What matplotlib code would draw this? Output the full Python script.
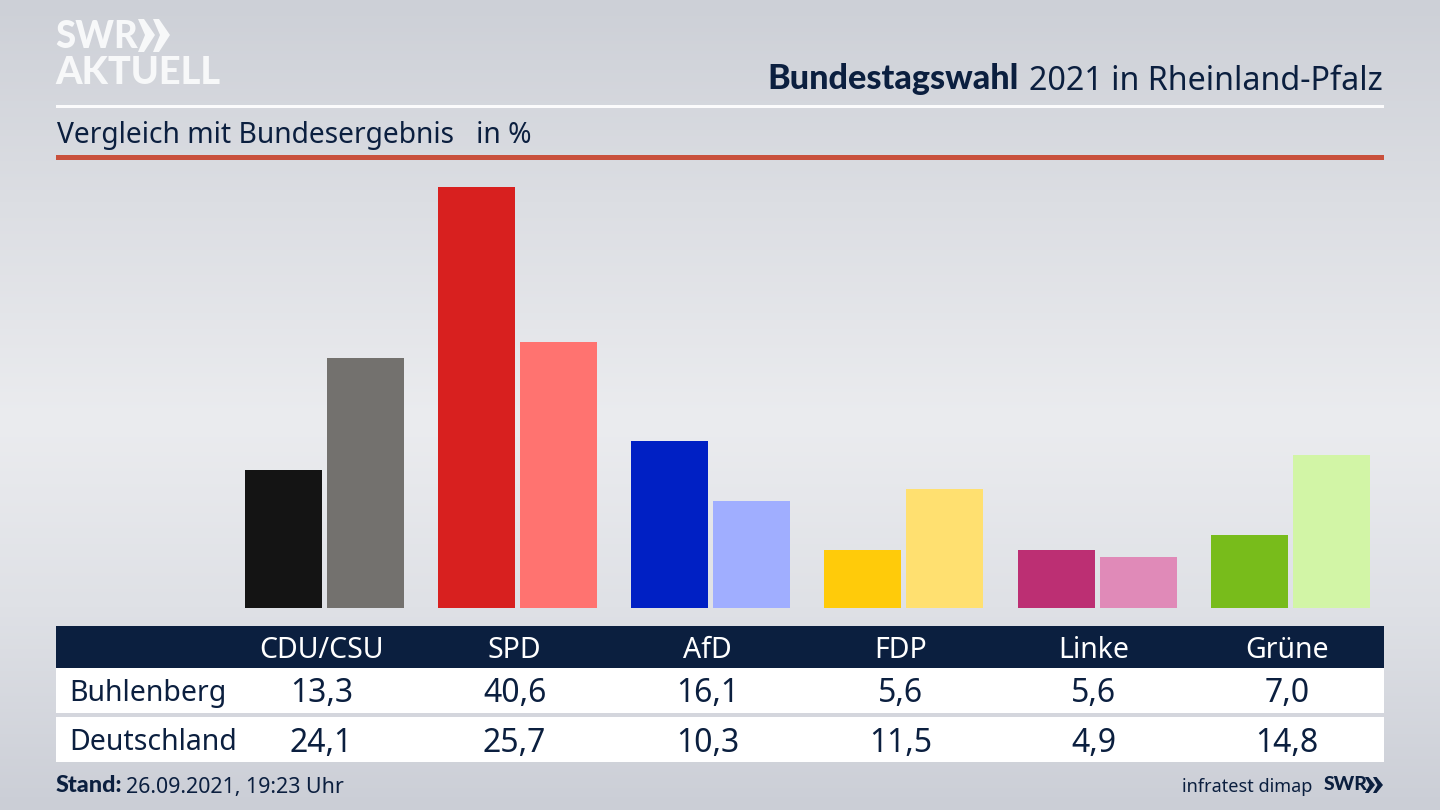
import numpy as np
import matplotlib
matplotlib.use("Agg")
import matplotlib.pyplot as plt
from matplotlib.patches import Rectangle, Polygon
from matplotlib.colors import LinearSegmentedColormap

parties = ["CDU/CSU", "SPD", "AfD", "FDP", "Linke", "Grüne"]
buhlenberg = [13.3, 40.6, 16.1, 5.6, 5.6, 7.0]
deutschland = [24.1, 25.7, 10.3, 11.5, 4.9, 14.8]
colors_local = ["#141414", "#d8201f", "#0020c4", "#ffcb0a", "#bc2f73", "#78bc1b"]
colors_national = ["#73716e", "#ff7370", "#a0aeff", "#ffe070", "#e08ab8", "#d2f5a6"]
row_names = ["Buhlenberg", "Deutschland"]
title_bold = "Bundestagswahl"
title_rest = "2021 in Rheinland-Pfalz"
subtitle = "Vergleich mit Bundesergebnis   in %"

W, H = 1440, 810
NAVY = "#0b1f3f"
FONT = "Noto Sans"
BOLD = "Lato"
plt.rcParams["font.family"] = [FONT, "DejaVu Sans"]

fig = plt.figure(figsize=(W / 100, H / 100), dpi=100)

bg = fig.add_axes([0, 0, 1, 1], zorder=0)
bg.set_xlim(0, W); bg.set_ylim(H, 0); bg.axis("off")
cmap = LinearSegmentedColormap.from_list("bg", [
    (0.0, "#cdd0d7"), (0.25, "#dcdee3"), (0.52, "#ebecef"),
    (0.75, "#dfe1e6"), (1.0, "#cbced6")])
bg.imshow(np.linspace(0, 1, 256)[:, None], cmap=cmap, aspect="auto",
          extent=(0, W, H, 0), zorder=0)
bg.set_xlim(0, W); bg.set_ylim(H, 0)

# logo
bg.text(55, 37, "SWR", fontsize=26.4, fontweight="black", color="#f7f8f9",
        va="center", ha="left", family=BOLD)
bg.text(55, 73, "AKTUELL", fontsize=27.3, fontweight="black", color="#f7f8f9",
        va="center", ha="left", family=BOLD)
for x0 in (138, 153):
    bg.add_patch(Polygon([(x0, 19), (x0 + 6, 19), (x0 + 17, 35), (x0 + 6, 52), (x0, 52), (x0 + 7, 35)],
                         closed=True, color="#f7f8f9", lw=0))

# title block
bg.text(1383, 81, title_rest, fontsize=23.2, color=NAVY, ha="right", va="center")
bg.text(1019, 79, title_bold, fontsize=24.6, fontweight="black", color=NAVY, ha="right", va="center", family=BOLD)
bg.add_patch(Rectangle((56, 104.5), 1328, 3, color="#fbfbfc", lw=0))
bg.text(57, 135, subtitle, fontsize=20.3, color=NAVY, ha="left", va="center")
bg.add_patch(Rectangle((56, 155), 1328, 5, color="#c9503c", lw=0))

# table
bg.add_patch(Rectangle((56, 626), 1328, 42, color=NAVY, lw=0))
bg.add_patch(Rectangle((56, 668), 1328, 45, color="white", lw=0))
bg.add_patch(Rectangle((56, 717), 1328, 45, color="white", lw=0))
col0, dcol = 321.5, 193.1
for i, p in enumerate(parties):
    x = col0 + i * dcol
    bg.text(x, 650, p, fontsize=20.5, color="white", ha="center", va="center")
    bg.text(x, 694, f"{buhlenberg[i]:.1f}".replace(".", ","), fontsize=23, color=NAVY, ha="center", va="center")
    bg.text(x, 743, f"{deutschland[i]:.1f}".replace(".", ","), fontsize=23, color=NAVY, ha="center", va="center")
bg.text(69.5, 694, row_names[0], fontsize=20.5, color=NAVY, ha="left", va="center")
bg.text(69.5, 742, row_names[1], fontsize=20.5, color=NAVY, ha="left", va="center")

# footer
bg.text(56, 786, "Stand:", fontsize=16.8, fontweight="black", color=NAVY, ha="left", va="center", family=BOLD)
bg.text(126, 787, "26.09.2021, 19:23 Uhr", fontsize=15.4, color=NAVY, ha="left", va="center")
bg.text(1312, 787, "infratest dimap", fontsize=13, color=NAVY, ha="right", va="center")
bg.text(1324, 785, "SWR", fontsize=14, fontweight="black", color=NAVY, ha="left", va="center", family=BOLD)
for x0 in (1365, 1373):
    bg.add_patch(Polygon([(x0, 777), (x0 + 3.5, 777), (x0 + 10, 785), (x0 + 3.5, 793), (x0, 793), (x0 + 4.5, 785)],
                         closed=True, color=NAVY, lw=0))

# bars
ax = fig.add_axes([245 / W, (H - 608) / H, (1370 - 245) / W, (608 - 187) / H], zorder=1)
ax.patch.set_alpha(0)
ax.axis("off")
dx = 193.15
ax.set_xlim(-79.5 / dx, (1370 - 245 - 79.5) / dx)
ax.set_ylim(0, 40.6)
idx = np.arange(len(parties))
ax.bar(idx - 41 / dx, buhlenberg, width=77 / dx, color=colors_local, linewidth=0)
ax.bar(idx + 41 / dx, deutschland, width=77 / dx, color=colors_national, linewidth=0)

fig.savefig("out.png", dpi=100)
